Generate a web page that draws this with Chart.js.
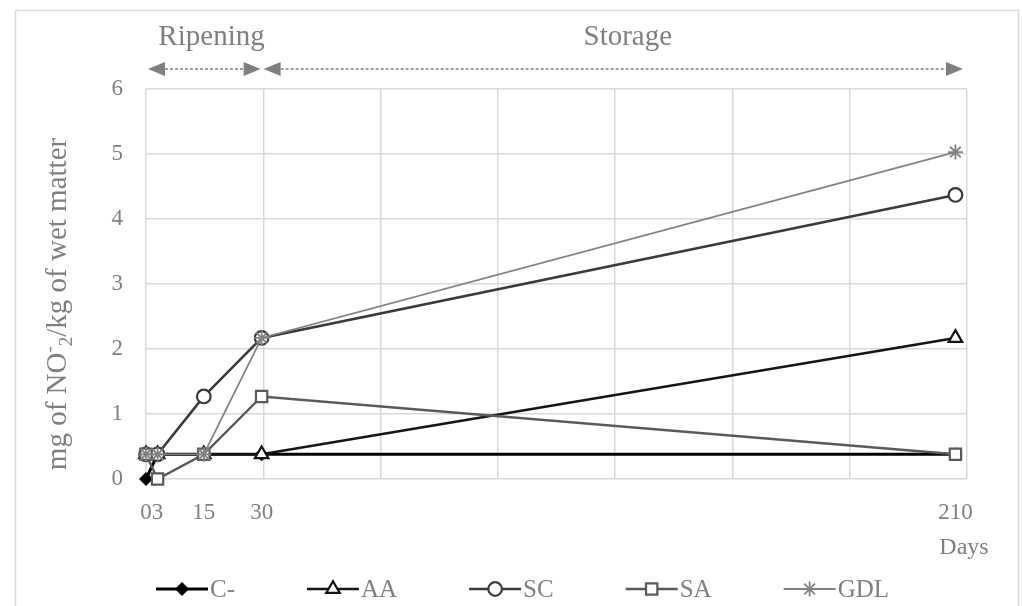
<!DOCTYPE html>
<html><head><meta charset="utf-8">
<script src="https://cdn.jsdelivr.net/npm/chart.js@4.4.1/dist/chart.umd.min.js"></script>
<style>html,body{margin:0;padding:0;background:#fff;}#wrap{position:relative;width:1022px;height:606px;}</style>
</head><body><div id="wrap"><canvas id="c" width="1022" height="606"></canvas></div>
<script>
// ---- data ----
const days = [0, 3, 15, 30, 210];
const xTickLabels = [0, 3, 15, 30, 210];
const yTicks = [0, 1, 2, 3, 4, 5, 6];
const seriesNames = ['C-', 'AA', 'SC', 'SA', 'GDL'];
const cMinus = [0, 0.38, 0.38, 0.38, 0.38];
const aa = [0.38, 0.38, 0.38, 0.38, 2.17];
const sc = [0.38, 0.38, 1.27, 2.17, 4.37];
const sa = [0.38, 0, 0.38, 1.27, 0.38];
const gdl = [0.38, 0.38, 0.38, 2.17, 5.03];
const phaseNames = ['Ripening', 'Storage'];
const xTitle = 'Days';

// ---- style ----
const FONT = "'Liberation Serif', serif";
const GREY = '#7f7f7f';
const GRID = '#d9d9d9';
const xMax = 213;
const gridVals = Array.from({length: 8}, (_, i) => i * xMax / 7);
const isGrid = v => gridVals.some(g => Math.abs(g - v) < 1e-6);

const styles = [
  {color:'#000000', width:3, point:'rectRot', r:6.5, bg:'#000000', pb:1},
  {color:'#141414', width:2.6, point:'triangle', r:7.8, bg:'#ffffff', pb:2.2},
  {color:'#3a3a3a', width:2.6, point:'circle', r:6.8, bg:'#ffffff', pb:2.2},
  {color:'#595959', width:2.4, point:'rect', r:8, bg:'#ffffff', pb:2.2},
  {color:'#828282', width:1.8, point:'star', r:7.5, bg:'#828282', pb:1.8}
];
const values = [cMinus, aa, sc, sa, gdl];

const datasets = values.map((vals, i) => ({
  label: seriesNames[i],
  data: days.map((d, j) => ({x: d, y: vals[j]})),
  borderColor: styles[i].color,
  borderWidth: styles[i].width,
  backgroundColor: styles[i].bg,
  pointStyle: styles[i].point,
  pointRadius: styles[i].r,
  pointHoverRadius: styles[i].r,
  pointBackgroundColor: styles[i].bg,
  pointBorderColor: styles[i].color,
  pointBorderWidth: styles[i].pb,
  tension: 0,
  fill: false,
  clip: false,
  order: 5 - i
}));

function arrow(ctx, x1, x2, y) {
  const hl = 17, hh = 7;
  ctx.save();
  ctx.strokeStyle = GREY; ctx.fillStyle = GREY; ctx.lineWidth = 1.3;
  ctx.setLineDash([3, 2]);
  ctx.beginPath(); ctx.moveTo(x1 + hl, y); ctx.lineTo(x2 - hl, y); ctx.stroke();
  ctx.setLineDash([]);
  ctx.beginPath(); ctx.moveTo(x1, y); ctx.lineTo(x1 + hl, y - hh); ctx.lineTo(x1 + hl, y + hh); ctx.closePath(); ctx.fill();
  ctx.beginPath(); ctx.moveTo(x2, y); ctx.lineTo(x2 - hl, y - hh); ctx.lineTo(x2 - hl, y + hh); ctx.closePath(); ctx.fill();
  ctx.restore();
}

function drawMarker(ctx, st, x, y) {
  ctx.save();
  ctx.fillStyle = st.bg; ctx.strokeStyle = st.color; ctx.lineWidth = st.pb;
  Chart.helpers.drawPoint(ctx, {pointStyle: st.point, radius: st.r, rotation: 0, borderWidth: st.pb}, x, y);
  ctx.restore();
}

const decor = {
  id: 'decor',
  beforeDraw(chart) {
    const ctx = chart.ctx;
    ctx.save();
    ctx.fillStyle = '#fff'; ctx.fillRect(0, 0, chart.width, chart.height);
    ctx.strokeStyle = GRID; ctx.lineWidth = 1.5;
    ctx.strokeRect(15.5, 10.5, 1003, 620);
    ctx.restore();
  },
  afterDraw(chart) {
    const ctx = chart.ctx, xs = chart.scales.x;
    // phase labels & arrows
    const ay = 69;
    arrow(ctx, xs.getPixelForValue(0) + 2, xs.getPixelForValue(30) - 1, ay);
    arrow(ctx, xs.getPixelForValue(30) + 2, xs.getPixelForValue(xMax) - 4, ay);
    ctx.save();
    ctx.fillStyle = GREY; ctx.font = '29px ' + FONT; ctx.textAlign = 'center'; ctx.textBaseline = 'alphabetic';
    ctx.fillText(phaseNames[0], xs.getPixelForValue(17), 45);
    ctx.fillText(phaseNames[1], xs.getPixelForValue(125), 45);
    // x title
    ctx.font = '24px ' + FONT; ctx.textBaseline = 'middle';
    ctx.fillText(xTitle, 964, 548);
    ctx.restore();

    // y title with super/subscript
    ctx.save();
    ctx.fillStyle = GREY;
    const big = '29px ' + FONT, small = '19px ' + FONT;
    const segs = [
      {t: 'mg of NO', f: big, dy: 0},
      {t: '-', f: small, dy: -11},
      {t: '2', f: small, dy: 6},
      {t: '/kg of wet matter', f: big, dy: 0}
    ];
    let total = 0;
    segs.forEach(s => { ctx.font = s.f; s.w = ctx.measureText(s.t).width; total += s.w; });
    ctx.translate(66, 304);
    ctx.rotate(-Math.PI / 2);
    ctx.textBaseline = 'alphabetic'; ctx.textAlign = 'left';
    let cx = -total / 2;
    segs.forEach(s => { ctx.font = s.f; ctx.fillText(s.t, cx, s.dy); cx += s.w; });
    ctx.restore();

    // legend
    ctx.save();
    ctx.font = '25px ' + FONT; ctx.textBaseline = 'middle'; ctx.textAlign = 'left';
    let lx = 156; const ly = 589, ll = 52;
    seriesNames.forEach((n, i) => {
      const st = styles[i];
      ctx.strokeStyle = st.color; ctx.lineWidth = st.width;
      ctx.beginPath(); ctx.moveTo(lx, ly); ctx.lineTo(lx + ll, ly); ctx.stroke();
      drawMarker(ctx, st, lx + ll / 2, ly);
      ctx.fillStyle = GREY;
      ctx.fillText(n, lx + ll + 2, ly + 1);
      lx += ll + 2 + ctx.measureText(n).width + 72;
    });
    ctx.restore();
  }
};

new Chart(document.getElementById('c'), {
  type: 'line',
  data: {datasets},
  plugins: [decor],
  options: {
    responsive: false,
    animation: false,
    devicePixelRatio: 1,
    layout: {padding: {left: 40, right: 55, top: 89, bottom: 87}},
    plugins: {legend: {display: false}, tooltip: {enabled: false}},
    scales: {
      x: {
        type: 'linear', min: 0, max: xMax,
        afterFit(s) { s.height = 40; },
        afterBuildTicks(s) {
          const vals = Array.from(new Set([...gridVals, ...xTickLabels])).sort((a, b) => a - b);
          s.ticks = vals.map(v => ({value: v}));
        },
        grid: {color: c => isGrid(c.tick.value) ? GRID : 'rgba(0,0,0,0)', lineWidth: 1.5, drawTicks: false},
        border: {display: false},
        ticks: {autoSkip: false, maxRotation: 0, minRotation: 0, padding: 20, color: GREY,
          font: {family: FONT, size: 23},
          callback: v => xTickLabels.includes(v) ? String(v) : ''}
      },
      y: {
        min: 0, max: 6,
        afterFit(s) { s.width = 106; },
        afterBuildTicks(s) { s.ticks = yTicks.map(v => ({value: v})); },
        grid: {color: GRID, lineWidth: 1.5, drawTicks: false},
        border: {display: false},
        ticks: {padding: 23, color: GREY, font: {family: FONT, size: 23}}
      }
    }
  }
});
</script></body></html>
